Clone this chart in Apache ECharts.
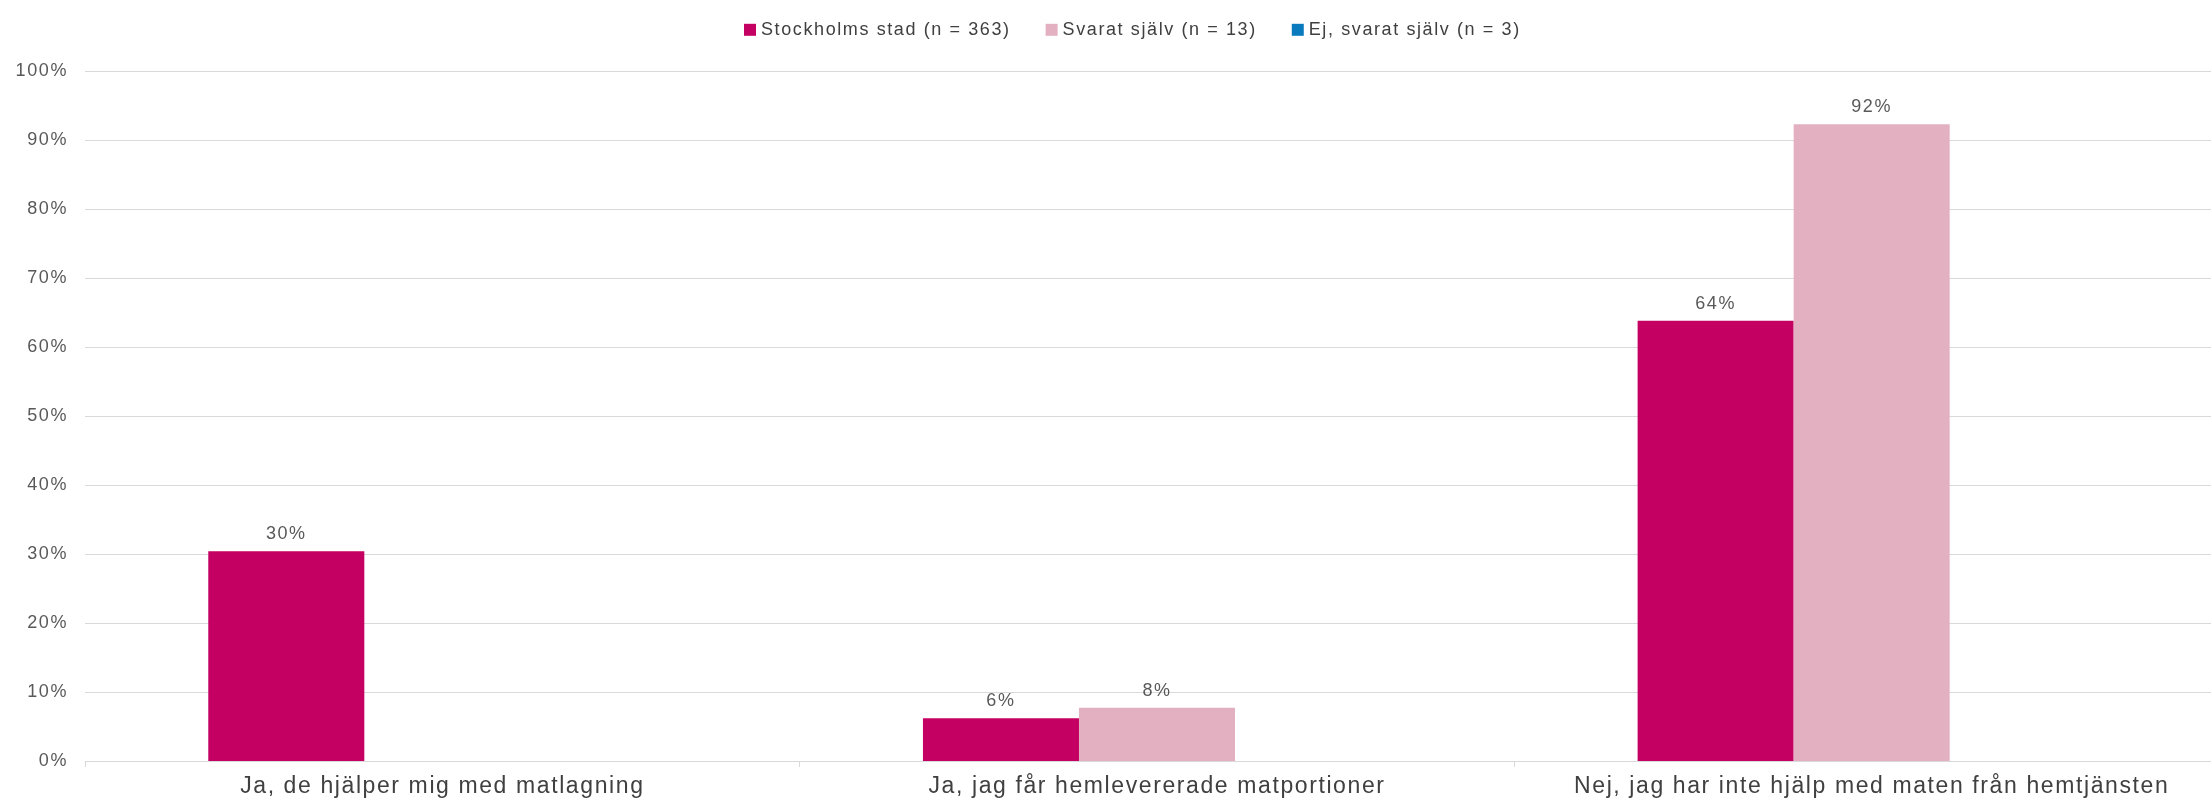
<!DOCTYPE html>
<html>
<head>
<meta charset="utf-8">
<title>Hjälp med maten</title>
<script src="https://cdn.jsdelivr.net/npm/echarts@6/dist/echarts.min.js"></script>
<style>
  html, body { margin: 0; padding: 0; background: #fff; overflow: hidden; }
  /* the reference plot is cut off at the right edge, so the chart is a bit wider than the window */
  #chart { width: 2229px; height: 804px; }
</style>
</head>
<body>
<div id="chart"></div>
<script>
// data
var categories = [
  'Ja, de hjälper mig med matlagning',
  'Ja, jag får hemlevererade matportioner',
  'Nej, jag har inte hjälp med maten från hemtjänsten'
];
var seriesNames = ['Stockholms stad (n = 363)', 'Svarat själv (n = 13)', 'Ej, svarat själv (n = 3)'];
var stockholm = [30.4, 6.2, 63.8];
var svaratSjalv = [null, 7.7, 92.3];
var ejSvaratSjalv = [null, null, null];
var yTicks = [0, 100, 10]; // min, max, interval

// the original chart has spaced-out letters; canvas supports letterSpacing
var LETTER_SPACING = '1.6px';
['fillText', 'strokeText', 'measureText'].forEach(function (k) {
  var orig = CanvasRenderingContext2D.prototype[k];
  CanvasRenderingContext2D.prototype[k] = function () {
    this.letterSpacing = LETTER_SPACING;
    return orig.apply(this, arguments);
  };
});

var FONT = '"Liberation Sans", Arial, sans-serif';

var chart = echarts.init(document.getElementById('chart'), null, {renderer: 'canvas'});

function barLabel() {
  return {
    show: true,
    position: 'top',
    distance: 7,
    color: '#595959',
    fontSize: 18,
    fontFamily: FONT,
    formatter: function (p) {
      return Math.round(p.value) + '%';
    }
  };
}

chart.setOption({
  animation: false,
  color: ['#C40062', '#E3B0C1', '#0A7ABF'],
  textStyle: {fontFamily: FONT},
  legend: {
    left: 739,
    top: 15,
    icon: 'rect',
    itemWidth: 12,
    itemHeight: 12,
    itemGap: 35,
    data: seriesNames,
    textStyle: {color: '#404040', fontSize: 18, fontFamily: FONT}
  },
  grid: {
    left: 85,
    right: 0,
    top: 71,
    bottom: 43,
    containLabel: false
  },
  xAxis: {
    type: 'category',
    data: categories,
    axisLine: {show: true, lineStyle: {color: '#d9d9d9', width: 1}},
    axisTick: {show: true, length: 6, lineStyle: {color: '#d9d9d9'}},
    axisLabel: {color: '#404040', fontSize: 23, fontFamily: FONT, margin: 13, interval: 0}
  },
  yAxis: {
    type: 'value',
    min: yTicks[0],
    max: yTicks[1],
    interval: yTicks[2],
    axisLine: {show: false},
    axisTick: {show: false},
    axisLabel: {color: '#595959', fontSize: 18, fontFamily: FONT, margin: 17, formatter: '{value}%'},
    splitLine: {lineStyle: {color: '#d9d9d9', width: 1}}
  },
  series: [
    {
      name: seriesNames[0],
      type: 'bar',
      data: stockholm,
      barGap: '0%',
      barCategoryGap: '34.5%',
      label: barLabel()
    },
    {
      name: seriesNames[1],
      type: 'bar',
      data: svaratSjalv,
      barGap: '0%',
      barCategoryGap: '34.5%',
      label: barLabel()
    },
    {
      name: seriesNames[2],
      type: 'bar',
      data: ejSvaratSjalv,
      barGap: '0%',
      barCategoryGap: '34.5%',
      label: barLabel()
    }
  ]
});
</script>
</body>
</html>
